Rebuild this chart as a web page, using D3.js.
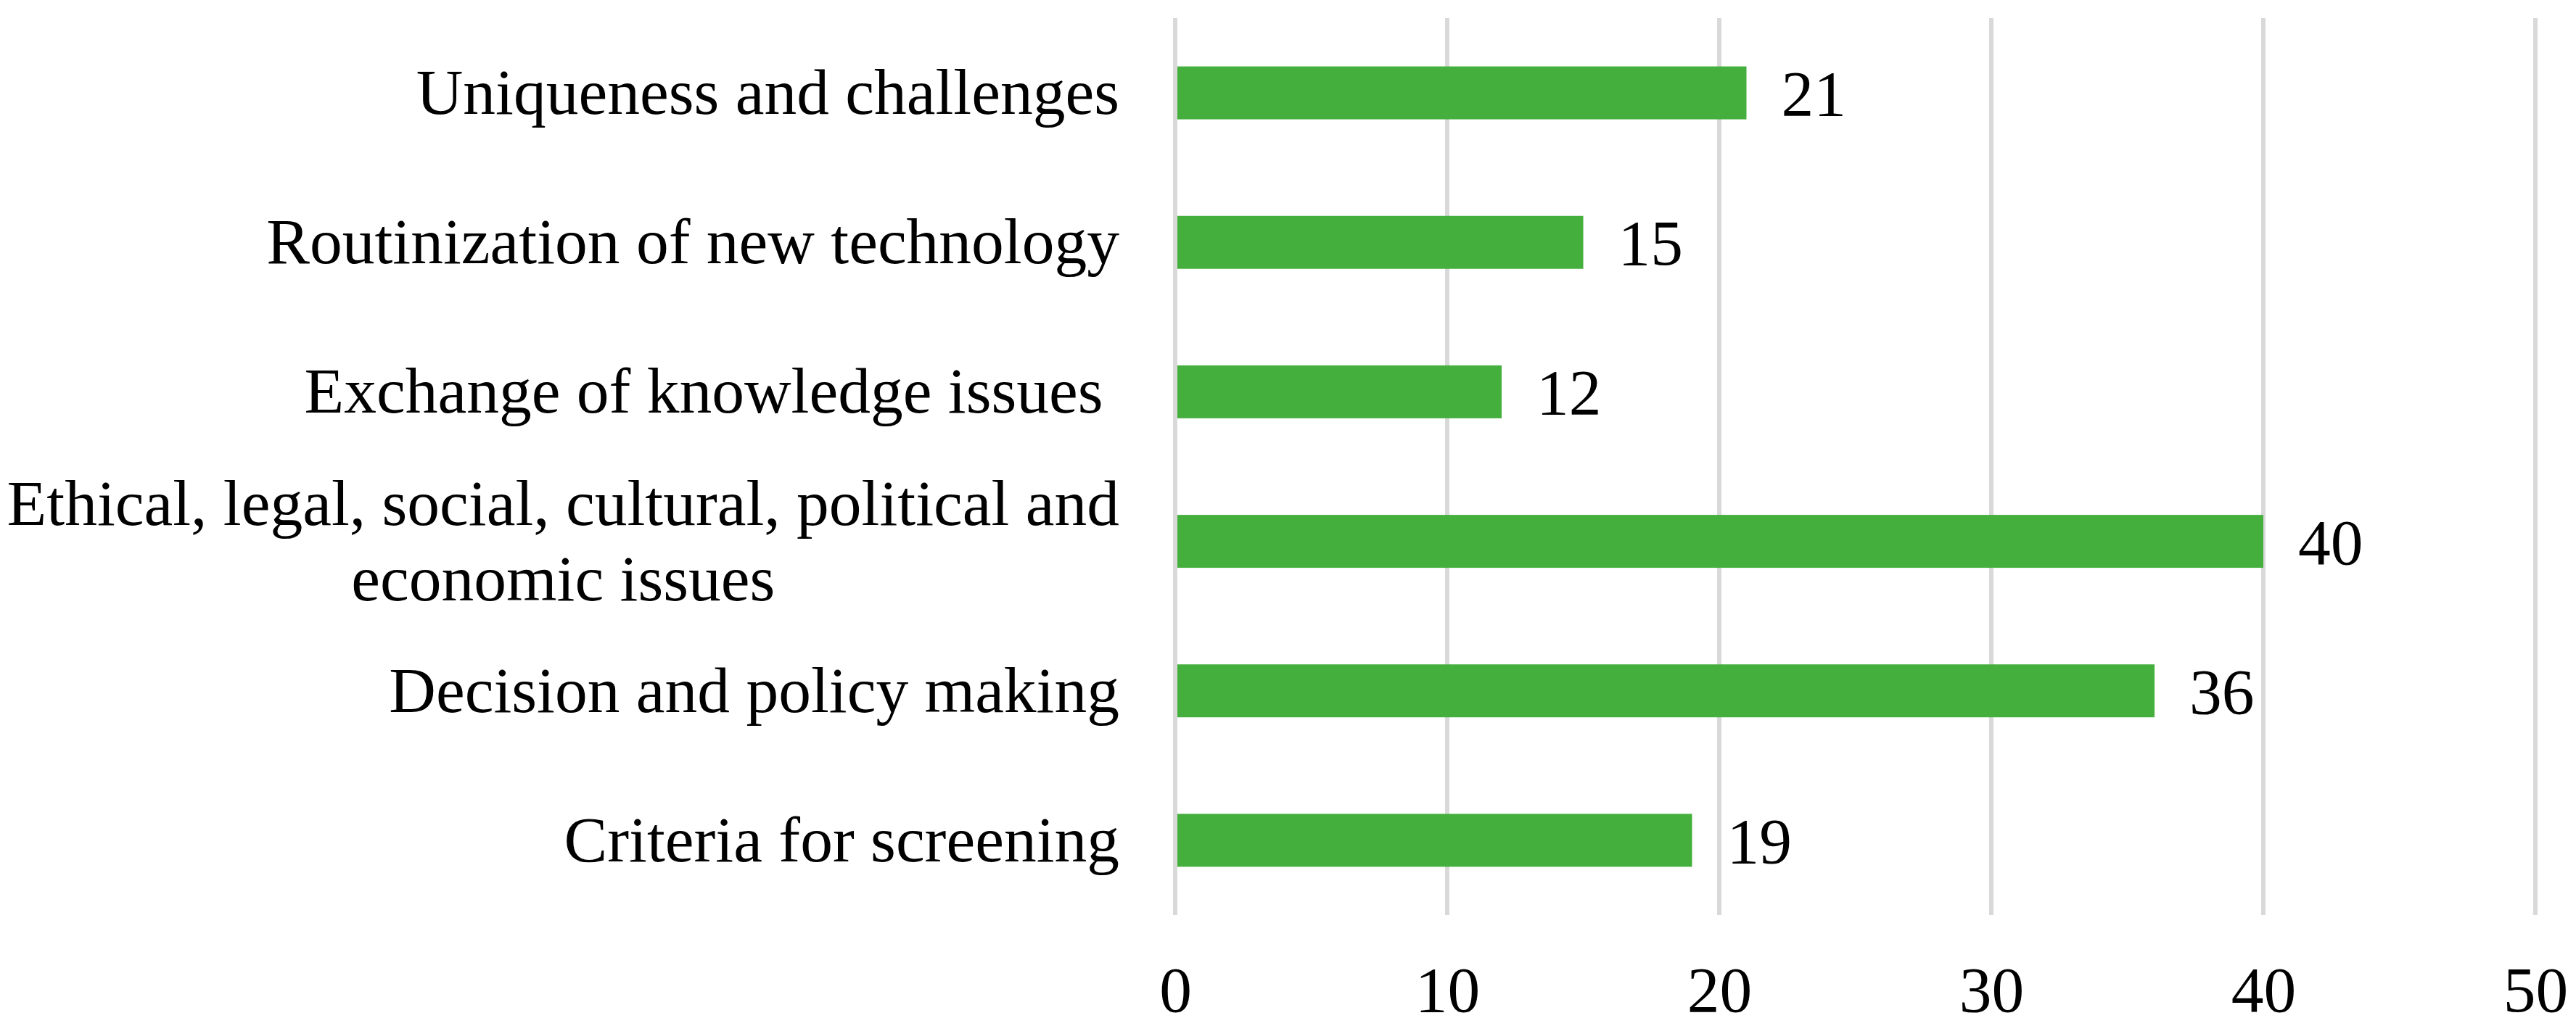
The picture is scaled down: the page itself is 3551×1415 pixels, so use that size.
<!DOCTYPE html>
<html>
<head>
<meta charset="utf-8">
<script src="https://cdn.jsdelivr.net/npm/d3@7"></script>
<style>
  html, body { margin: 0; padding: 0; background: #ffffff; }
  svg { display: block; }
  text { font-family: "Liberation Serif", "Times New Roman", serif; fill: #000; }
</style>
</head>
<body>
<svg id="chart" width="3551" height="1415"></svg>
<script>
// ---- data ----
const categories = [
  ["Uniqueness and challenges"],
  ["Routinization of new technology"],
  ["Exchange of knowledge issues "],
  ["Ethical, legal, social, cultural, political and", "economic issues"],
  ["Decision and policy making"],
  ["Criteria for screening"]
];
const values = [21, 15, 12, 40, 36, 19];
const xTicks = [0, 10, 20, 30, 40, 50];

// ---- layout ----
const W = 3551, H = 1415;
const plot = { left: 1620, right: 3495, top: 25, bottom: 1262 };
const fontSize = 89.5;
const labelRight = 1543;
const barColor = "#45AF3D";
const gridColor = "#D9D9D9";

const svg = d3.select("#chart");

const x = d3.scaleLinear().domain([0, 50]).range([plot.left, plot.right]);
const keys = categories.map((c, i) => i);
const y = d3.scaleBand().domain(keys).range([plot.top, plot.bottom])
  .paddingInner(0.646).paddingOuter(0.323);

// gridlines
svg.append("g").selectAll("line").data(xTicks).join("line")
  .attr("x1", d => x(d)).attr("x2", d => x(d))
  .attr("y1", plot.top).attr("y2", plot.bottom)
  .attr("stroke", gridColor).attr("stroke-width", 6);

// bars
svg.append("g").selectAll("rect").data(values).join("rect")
  .attr("x", x(0) + 3)
  .attr("y", (d, i) => y(i))
  .attr("width", d => x(d) - x(0) - 3)
  .attr("height", y.bandwidth())
  .attr("fill", barColor);

// value labels
svg.append("g").selectAll("text").data(values).join("text")
  .attr("x", d => x(d) + 48)
  .attr("y", (d, i) => y(i) + y.bandwidth() / 2 + 31)
  .attr("font-size", fontSize)
  .text(d => d);

// x axis tick labels
const xAxis = d3.axisBottom(x).tickValues(xTicks).tickSize(0).tickPadding(0);
const gx = svg.append("g").attr("transform", `translate(0, 1395)`).call(xAxis);
gx.select(".domain").remove();
gx.selectAll("text")
  .attr("font-size", fontSize)
  .attr("font-family", '"Liberation Serif", "Times New Roman", serif')
  .attr("fill", "#000")
  .attr("dy", 0)
  .attr("y", 0);

// category labels
const lineH = 104;
const catG = svg.append("g");
categories.forEach((lines, i) => {
  const cy = y(i) + y.bandwidth() / 2;
  const t = catG.append("text")
    .attr("font-size", fontSize)
    .attr("xml:space", "preserve")
    .style("white-space", "pre");
  const n = lines.length;
  const tspans = lines.map((ln, k) =>
    t.append("tspan")
      .attr("y", cy + 29 + (k - (n - 1) / 2) * lineH)
      .text(ln)
  );
  if (n === 1) {
    t.attr("text-anchor", "end");
    tspans.forEach(s => s.attr("x", labelRight));
  } else {
    const maxW = d3.max(tspans, s => s.node().getComputedTextLength());
    t.attr("text-anchor", "middle");
    tspans.forEach(s => s.attr("x", labelRight - maxW / 2));
  }
});
</script>
</body>
</html>
